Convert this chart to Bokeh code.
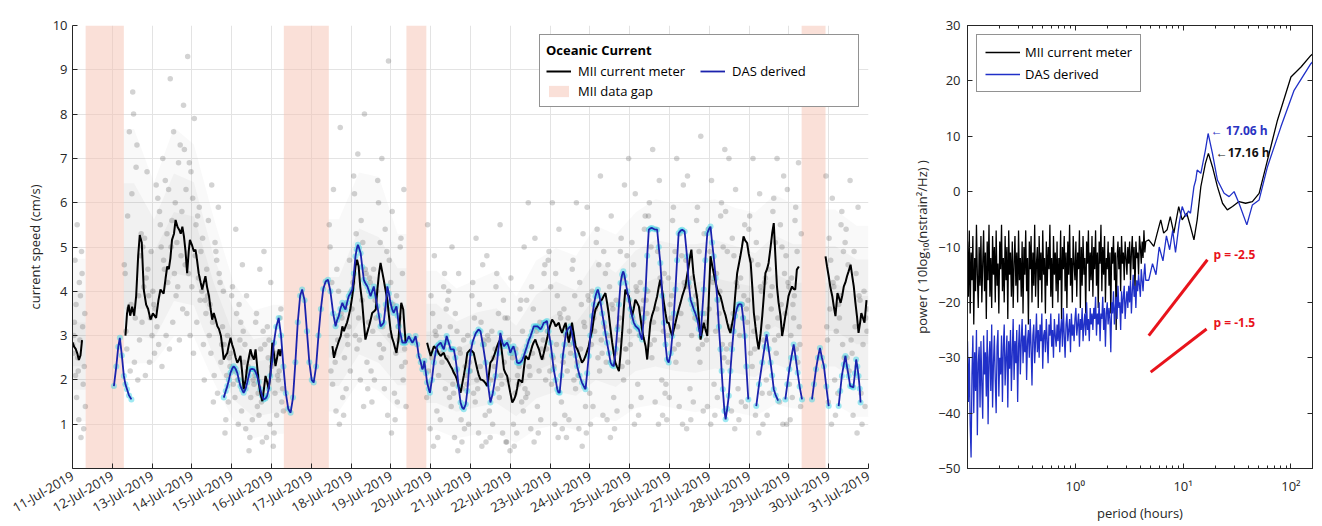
import math
import numpy as np
from bokeh.plotting import figure
from bokeh.layouts import row
from bokeh.models import (FixedTicker, Legend, LegendItem, LinearAxis, LogAxis,
                          Label, CustomJSTickFormatter)
from bokeh.embed import file_html
from bokeh.resources import INLINE

FONT = "Open Sans"
AX = "#262626"

# ---------------- panel (a) data ----------------
date_labels = ["11-Jul-2019", "12-Jul-2019", "13-Jul-2019", "14-Jul-2019", "15-Jul-2019",
               "16-Jul-2019", "17-Jul-2019", "18-Jul-2019", "19-Jul-2019", "20-Jul-2019",
               "21-Jul-2019", "22-Jul-2019", "23-Jul-2019", "24-Jul-2019", "25-Jul-2019",
               "26-Jul-2019", "27-Jul-2019", "28-Jul-2019", "29-Jul-2019", "30-Jul-2019",
               "31-Jul-2019"]
day_ticks = list(range(len(date_labels)))          # days since 11-Jul-2019 00:00
speed_ticks = [1, 2, 3, 4, 5, 6, 7, 8, 9, 10]

gap_start = [0.33, 5.31, 8.39, 18.32]
gap_end = [1.29, 6.44, 8.89, 18.92]

mii_seg1 = [(0, 2.85), (0.04, 2.75), (0.08, 2.7), (0.12, 2.6), (0.16, 2.45), (0.2, 2.55), (0.24, 2.9)]
mii_seg2 = [(1.33, 3.0), (1.37, 3.5), (1.41, 3.7), (1.45, 3.45), (1.5, 3.65), (1.55, 3.45), (1.6, 3.9),
            (1.65, 4.8), (1.69, 5.27), (1.74, 5.1), (1.79, 4.04), (1.85, 3.7), (1.9, 3.6), (1.96, 3.36),
            (2.02, 3.5), (2.1, 3.4), (2.16, 3.8), (2.21, 4.04), (2.29, 3.95), (2.34, 4.3), (2.38, 4.56),
            (2.42, 4.5), (2.46, 4.75), (2.5, 5.16), (2.55, 5.3), (2.59, 5.61), (2.64, 5.45), (2.68, 5.39),
            (2.72, 5.3), (2.76, 5.46), (2.8, 5.24), (2.84, 4.9), (2.88, 4.41), (2.92, 4.9), (2.95, 5.16),
            (3.0, 5.05), (3.05, 4.9), (3.09, 4.94), (3.13, 4.7), (3.17, 4.41), (3.22, 4.2), (3.26, 4.04),
            (3.3, 4.2), (3.34, 4.34), (3.38, 4.1), (3.43, 3.89), (3.47, 3.6), (3.51, 3.36), (3.55, 3.51),
            (3.6, 3.35), (3.64, 3.21), (3.68, 3.15), (3.73, 2.99), (3.77, 2.7), (3.8, 2.46), (3.85, 2.55),
            (3.89, 2.61), (3.93, 2.8), (3.97, 2.95), (4.01, 2.8), (4.05, 2.69), (4.1, 2.5), (4.14, 2.39),
            (4.18, 2.45), (4.22, 2.54), (4.26, 2.2), (4.3, 1.79), (4.35, 2.0), (4.39, 2.31), (4.43, 2.5),
            (4.47, 2.69), (4.51, 2.55), (4.56, 2.46), (4.6, 2.69), (4.64, 2.3), (4.68, 1.94), (4.72, 1.7),
            (4.77, 1.52), (4.81, 1.8), (4.85, 2.09), (4.89, 1.95), (4.93, 1.79), (4.97, 2.1), (5.02, 2.84),
            (5.06, 2.6), (5.1, 2.31), (5.14, 2.5), (5.18, 2.69), (5.22, 2.54), (5.25, 2.7)]
mii_seg3 = [(6.53, 2.76), (6.57, 2.5), (6.61, 2.65), (6.65, 2.76), (6.7, 2.9), (6.74, 2.99), (6.78, 3.21),
            (6.82, 3.1), (6.86, 3.21), (6.9, 3.3), (6.94, 3.44), (6.98, 3.6), (7.03, 3.89), (7.07, 4.2),
            (7.11, 4.56), (7.15, 4.71), (7.19, 4.56), (7.23, 4.1), (7.28, 3.74), (7.32, 3.3), (7.36, 2.91),
            (7.4, 3.05), (7.45, 3.21), (7.49, 3.35), (7.53, 3.51), (7.58, 3.55), (7.62, 3.59), (7.66, 4.04),
            (7.7, 4.4), (7.74, 4.64), (7.78, 4.45), (7.82, 4.26), (7.87, 4.0), (7.91, 3.81), (7.95, 3.45),
            (7.99, 3.14), (8.03, 2.95), (8.07, 2.84), (8.11, 2.7), (8.14, 2.61), (8.19, 2.91), (8.23, 3.4),
            (8.26, 3.74), (8.31, 3.59), (8.34, 3.2), (8.37, 2.84)]
mii_seg4 = [(8.91, 2.84), (8.95, 2.7), (9.0, 2.54), (9.04, 2.65), (9.08, 2.76), (9.12, 2.72), (9.16, 2.69),
            (9.2, 2.6), (9.25, 2.54), (9.29, 2.58), (9.33, 2.61), (9.37, 2.5), (9.41, 2.46), (9.45, 2.4),
            (9.5, 2.31), (9.54, 2.25), (9.58, 2.16), (9.62, 2.1), (9.66, 2.01), (9.7, 1.85), (9.75, 1.71),
            (9.79, 1.9), (9.83, 2.09), (9.88, 2.35), (9.92, 2.61), (9.96, 2.65), (10.0, 2.69), (10.04, 2.65),
            (10.08, 2.61), (10.13, 2.4), (10.17, 2.24), (10.21, 2.1), (10.25, 2.01), (10.29, 2.0), (10.33, 1.98),
            (10.38, 1.92), (10.42, 1.86), (10.46, 2.1), (10.5, 2.39), (10.55, 2.45), (10.59, 2.54), (10.63, 2.65),
            (10.67, 2.76), (10.71, 2.85), (10.75, 2.91), (10.8, 2.55), (10.84, 2.24), (10.88, 2.15), (10.92, 2.09),
            (10.96, 1.9), (11.0, 1.71), (11.05, 1.49), (11.09, 1.55), (11.13, 1.64), (11.17, 1.8), (11.21, 2.01),
            (11.26, 1.98), (11.3, 1.94), (11.34, 2.25), (11.38, 2.54), (11.42, 2.5), (11.46, 2.46), (11.5, 2.6),
            (11.55, 2.76), (11.59, 2.85), (11.63, 2.91), (11.67, 2.8), (11.72, 2.69), (11.76, 2.55), (11.8, 2.46),
            (11.84, 2.6), (11.88, 2.76), (11.93, 2.95), (11.97, 3.14), (12.01, 3.25), (12.05, 3.36), (12.1, 3.3),
            (12.14, 3.21), (12.18, 3.25), (12.22, 3.29), (12.26, 3.15), (12.3, 3.06), (12.35, 3.2), (12.39, 3.29),
            (12.43, 3.05), (12.47, 2.84), (12.51, 3.05), (12.55, 3.29), (12.6, 3.0), (12.64, 2.76), (12.68, 2.7),
            (12.72, 2.61), (12.76, 2.5), (12.8, 2.39), (12.85, 2.45), (12.89, 2.54), (12.93, 2.65), (12.97, 2.76),
            (13.01, 2.95), (13.06, 3.14), (13.1, 3.4), (13.14, 3.59), (13.18, 3.65), (13.22, 3.74), (13.26, 3.78),
            (13.3, 3.81), (13.35, 3.9), (13.39, 3.96), (13.43, 3.75), (13.47, 3.51), (13.51, 3.2), (13.56, 2.84),
            (13.6, 2.6), (13.64, 2.39), (13.68, 2.3), (13.73, 2.2), (13.77, 2.6), (13.81, 3.06), (13.85, 3.6),
            (13.89, 4.04), (13.93, 3.95), (13.98, 3.89), (14.02, 3.65), (14.06, 3.44), (14.1, 3.6), (14.14, 3.81),
            (14.18, 3.75), (14.23, 3.66), (14.27, 3.4), (14.31, 3.14), (14.35, 2.95), (14.4, 2.76), (14.44, 2.46),
            (14.48, 2.9), (14.52, 3.29), (14.56, 3.45), (14.61, 3.59), (14.65, 3.75), (14.69, 3.89), (14.73, 4.1),
            (14.77, 4.26), (14.82, 4.0), (14.86, 3.74), (14.9, 3.5), (14.94, 3.29), (14.98, 3.29), (15.03, 3.1),
            (15.07, 2.99), (15.11, 3.15), (15.15, 3.29), (15.19, 3.45), (15.23, 3.59), (15.28, 3.75), (15.32, 3.89),
            (15.36, 4.0), (15.4, 4.11), (15.44, 4.35), (15.48, 4.56), (15.52, 4.8), (15.55, 4.94), (15.6, 4.41),
            (15.65, 4.1), (15.7, 3.81), (15.74, 3.35), (15.78, 2.91), (15.82, 3.1), (15.86, 3.29), (15.9, 3.15),
            (15.95, 2.99), (15.99, 3.9), (16.03, 4.79), (16.07, 4.6), (16.11, 4.41), (16.16, 4.2), (16.2, 4.04),
            (16.24, 3.95), (16.28, 3.89), (16.32, 3.75), (16.36, 3.59), (16.41, 3.45), (16.45, 3.29), (16.49, 3.15),
            (16.53, 3.06), (16.57, 3.25), (16.61, 3.44), (16.65, 3.9), (16.7, 4.41), (16.74, 4.6), (16.78, 4.79),
            (16.82, 5.0), (16.86, 5.24), (16.9, 5.15), (16.95, 5.09), (16.99, 4.85), (17.04, 4.64), (17.08, 4.1),
            (17.12, 3.51), (17.16, 3.2), (17.2, 2.91), (17.24, 2.69), (17.29, 3.05), (17.33, 3.44), (17.37, 3.9),
            (17.41, 4.41), (17.45, 4.5), (17.49, 4.64), (17.54, 5.0), (17.58, 5.31), (17.62, 5.54), (17.66, 4.8),
            (17.7, 4.11), (17.74, 3.75), (17.79, 3.44), (17.83, 2.99), (17.87, 3.2), (17.91, 3.44), (17.95, 3.65),
            (17.99, 3.89), (18.03, 4.0), (18.08, 4.11), (18.12, 4.05), (18.16, 4.04), (18.2, 4.49), (18.25, 4.56)]
mii_seg5 = [(18.92, 4.79), (18.96, 4.55), (19.0, 4.34), (19.04, 4.1), (19.09, 3.89), (19.13, 3.65), (19.17, 3.44),
            (19.22, 3.96), (19.26, 3.85), (19.3, 3.74), (19.34, 3.9), (19.38, 4.11), (19.42, 4.2), (19.46, 4.34),
            (19.5, 4.45), (19.55, 4.6), (19.59, 4.35), (19.63, 4.11), (19.67, 3.75), (19.71, 3.44), (19.75, 3.06),
            (19.79, 3.3), (19.82, 3.51), (19.86, 3.4), (19.9, 3.29), (19.95, 3.8)]

das_seg1 = [(1.04, 1.86), (1.1, 2.3), (1.15, 2.75), (1.19, 2.95), (1.24, 2.55), (1.29, 2.09), (1.33, 1.9),
            (1.37, 1.79), (1.42, 1.65), (1.48, 1.56)]
das_seg2 = [(3.8, 1.6), (3.85, 1.75), (3.89, 1.86), (3.93, 2.0), (3.97, 2.16), (4.01, 2.25), (4.05, 2.31),
            (4.1, 2.25), (4.14, 2.16), (4.18, 2.0), (4.22, 1.86), (4.26, 1.78), (4.3, 1.71), (4.35, 1.8),
            (4.39, 1.94), (4.43, 2.1), (4.47, 2.24), (4.51, 2.25), (4.56, 2.24), (4.6, 2.18), (4.64, 2.09),
            (4.68, 1.95), (4.72, 1.79), (4.76, 1.65), (4.8, 1.56), (4.85, 1.58), (4.89, 1.64), (4.93, 1.8),
            (4.97, 2.09), (5.02, 2.45), (5.06, 2.84), (5.12, 3.2), (5.18, 3.4), (5.24, 3.0), (5.3, 2.3),
            (5.36, 1.7), (5.42, 1.35), (5.48, 1.26), (5.54, 1.6), (5.6, 2.4), (5.66, 3.3), (5.72, 3.9),
            (5.77, 4.04), (5.83, 3.8), (5.89, 3.1), (5.95, 2.4), (6.01, 2.0), (6.06, 1.94), (6.12, 2.3),
            (6.18, 3.0), (6.24, 3.6), (6.3, 4.05), (6.36, 4.22), (6.42, 4.26), (6.48, 4.0), (6.55, 3.5),
            (6.61, 3.21), (6.65, 3.35), (6.69, 3.44), (6.73, 3.6), (6.78, 3.74), (6.82, 3.65), (6.86, 3.59),
            (6.9, 3.75), (6.94, 3.89), (6.98, 3.95), (7.03, 4.04), (7.07, 4.4), (7.11, 4.79), (7.14, 4.95),
            (7.17, 5.05), (7.2, 4.98), (7.24, 4.86), (7.28, 4.55), (7.32, 4.26), (7.36, 4.18), (7.41, 4.11),
            (7.45, 4.0), (7.49, 3.89), (7.53, 4.0), (7.57, 4.11), (7.61, 3.9), (7.66, 3.66), (7.7, 3.45),
            (7.74, 3.21), (7.78, 3.25), (7.82, 3.29), (7.87, 3.7), (7.91, 4.11), (7.95, 3.95), (7.99, 3.74),
            (8.03, 3.6), (8.07, 3.51), (8.11, 3.6), (8.14, 3.66), (8.17, 3.45), (8.2, 3.21), (8.25, 3.0),
            (8.29, 2.84), (8.33, 2.84), (8.37, 2.84), (8.41, 2.9), (8.45, 2.99), (8.5, 2.9), (8.54, 2.84),
            (8.58, 2.9), (8.62, 2.99), (8.66, 2.8), (8.7, 2.54), (8.75, 2.4), (8.79, 2.24), (8.82, 2.3),
            (8.84, 2.43), (8.88, 2.15), (8.91, 1.94), (8.95, 1.8), (8.98, 1.71), (9.03, 2.0), (9.08, 2.39),
            (9.12, 2.6), (9.16, 2.76), (9.2, 2.8), (9.25, 2.84), (9.29, 2.76), (9.33, 2.69), (9.37, 2.85),
            (9.4, 2.99), (9.45, 2.85), (9.5, 2.69), (9.54, 2.69), (9.58, 2.69), (9.62, 2.5), (9.66, 2.24),
            (9.7, 1.85), (9.75, 1.49), (9.79, 1.38), (9.83, 1.34), (9.88, 1.45), (9.92, 1.75), (9.96, 2.2),
            (10.0, 2.6), (10.05, 2.85), (10.13, 3.05), (10.2, 3.14), (10.25, 3.1), (10.31, 2.8), (10.38, 2.39),
            (10.44, 1.9), (10.5, 1.49), (10.56, 1.7), (10.63, 2.09), (10.69, 2.6), (10.75, 3.06), (10.8, 2.85),
            (10.84, 2.76), (10.88, 2.8), (10.92, 2.84), (10.96, 2.75), (11.0, 2.61), (11.04, 2.7), (11.08, 2.76),
            (11.13, 2.6), (11.17, 2.39), (11.21, 2.38), (11.25, 2.39), (11.3, 2.45), (11.34, 2.54), (11.38, 2.65),
            (11.42, 2.76), (11.46, 2.88), (11.51, 2.99), (11.55, 3.1), (11.59, 3.21), (11.64, 3.21), (11.68, 3.21),
            (11.72, 3.18), (11.76, 3.14), (11.8, 3.2), (11.84, 3.29), (11.88, 3.3), (11.92, 3.33), (11.96, 3.1),
            (12.01, 2.84), (12.05, 2.55), (12.09, 2.24), (12.14, 2.0), (12.18, 1.79), (12.21, 1.72), (12.24, 1.71),
            (12.28, 2.1), (12.32, 2.54), (12.36, 2.8), (12.4, 3.06), (12.45, 3.15), (12.51, 3.21), (12.55, 3.05),
            (12.59, 2.84), (12.64, 2.55), (12.68, 2.31), (12.74, 2.1), (12.8, 1.94), (12.85, 1.85), (12.89, 1.79),
            (12.93, 2.15), (12.97, 2.54), (13.01, 3.0), (13.06, 3.44), (13.1, 3.7), (13.14, 3.89), (13.17, 3.98),
            (13.2, 4.04), (13.24, 3.9), (13.27, 3.74), (13.31, 3.5), (13.35, 3.29), (13.39, 3.05), (13.43, 2.84),
            (13.48, 2.6), (13.52, 2.39), (13.56, 2.33), (13.6, 2.31), (13.65, 2.7), (13.69, 3.14), (13.73, 3.7),
            (13.77, 4.19), (13.81, 4.38), (13.84, 4.45), (13.87, 4.35), (13.9, 4.19), (13.94, 4.0), (13.98, 3.81),
            (14.02, 3.6), (14.06, 3.44), (14.1, 3.3), (14.15, 3.21), (14.19, 3.18), (14.23, 3.14), (14.27, 3.0),
            (14.31, 2.91), (14.35, 3.4), (14.4, 4.04), (14.44, 4.8), (14.48, 5.39), (14.52, 5.42), (14.56, 5.43),
            (14.62, 5.4), (14.69, 5.39), (14.73, 5.0), (14.77, 4.64), (14.82, 3.9), (14.86, 3.29), (14.9, 2.8),
            (14.94, 2.46), (14.98, 2.39), (15.03, 2.6), (15.07, 2.99), (15.11, 3.5), (15.15, 4.04), (15.19, 4.7),
            (15.23, 5.31), (15.28, 5.37), (15.32, 5.39), (15.38, 5.35), (15.44, 4.79), (15.48, 4.2), (15.53, 3.81),
            (15.57, 3.7), (15.61, 3.59), (15.65, 3.5), (15.7, 3.36), (15.74, 3.15), (15.78, 2.99), (15.82, 3.5),
            (15.86, 4.04), (15.9, 4.7), (15.95, 5.31), (15.99, 5.4), (16.03, 5.46), (16.07, 5.1), (16.11, 4.79),
            (16.16, 4.3), (16.2, 3.81), (16.24, 3.2), (16.28, 2.69), (16.31, 2.2), (16.34, 1.79), (16.38, 1.3),
            (16.41, 1.11), (16.45, 1.35), (16.49, 1.64), (16.53, 2.2), (16.57, 2.69), (16.61, 3.1), (16.65, 3.44),
            (16.69, 3.6), (16.73, 3.7), (16.77, 3.71), (16.81, 3.7), (16.85, 3.4), (16.89, 2.99), (16.93, 2.3),
            (16.98, 1.56)]
das_seg3 = [(17.18, 1.41), (17.25, 1.9), (17.33, 2.39), (17.39, 2.75), (17.44, 3.03), (17.49, 2.7), (17.54, 2.39),
            (17.58, 2.1), (17.62, 1.79), (17.67, 1.65), (17.73, 1.53)]
das_seg4 = [(17.91, 1.56), (17.96, 1.9), (18.01, 2.24), (18.06, 2.5), (18.12, 2.8), (18.17, 2.5), (18.22, 2.16),
            (18.27, 1.85), (18.33, 1.56)]
das_seg5 = [(18.58, 1.56), (18.63, 1.9), (18.68, 2.24), (18.73, 2.5), (18.78, 2.72), (18.83, 2.5), (18.88, 2.31),
            (18.94, 1.85), (19.0, 1.41)]
das_seg6 = [(19.25, 1.41), (19.29, 1.75), (19.33, 2.09), (19.38, 2.35), (19.42, 2.54), (19.46, 2.3), (19.5, 2.09),
            (19.54, 1.86), (19.58, 1.85), (19.62, 1.83), (19.66, 2.15), (19.69, 2.46), (19.72, 2.3), (19.75, 2.09),
            (19.78, 1.8), (19.8, 1.49)]

# raw current-meter samples (gray cloud), per time window
scatter_bins = [(0.0, 0.33), (1.29, 1.8), (1.8, 2.3), (2.3, 2.8), (2.8, 3.3), (3.3, 3.8), (3.8, 4.3),
                (4.3, 4.8), (4.8, 5.31), (6.44, 6.95), (6.95, 7.45), (7.45, 7.95), (7.95, 8.39),
                (8.89, 9.4), (9.4, 9.9), (9.9, 10.4), (10.4, 10.9), (10.9, 11.4), (11.4, 11.9),
                (11.9, 12.4), (12.4, 12.9), (12.9, 13.4), (13.4, 13.9), (13.9, 14.4), (14.4, 14.9),
                (14.9, 15.4), (15.4, 15.9), (15.9, 16.4), (16.4, 16.9), (16.9, 17.4), (17.4, 17.9),
                (17.9, 18.32), (18.92, 19.4), (19.4, 20.0)]
scatter_vals = [
    [2.8, 1.6, 3.9, 2.3, 4.7, 1.1, 3.2, 2.6, 5.5, 0.7, 3.5, 2.1, 4.2, 1.9, 3.0, 2.5, 4.9, 1.4, 3.7, 2.9, 0.9, 3.3, 2.2, 4.4],
    [3.6, 2.4, 4.8, 3.1, 6.2, 2.0, 4.1, 7.6, 3.4, 5.3, 2.7, 8.5, 3.9, 4.6, 2.2, 6.8, 3.3, 5.7, 8.0, 2.9, 4.4, 3.7, 7.3, 5.0],
    [4.0, 2.8, 5.2, 3.4, 6.4, 2.3, 4.5, 3.7, 5.8, 2.1, 4.9, 3.2, 7.0, 3.9, 2.6, 5.5, 4.3, 3.0, 6.1, 4.7, 2.4, 3.6, 5.0, 6.7],
    [5.1, 3.6, 6.3, 4.4, 7.3, 3.0, 5.6, 4.1, 8.2, 2.7, 6.0, 4.8, 5.3, 3.3, 6.9, 4.5, 8.8, 3.9, 5.8, 4.2, 7.6, 2.9, 6.5, 5.0],
    [4.9, 3.5, 6.1, 4.3, 7.2, 3.0, 5.5, 4.0, 9.3, 2.6, 5.9, 4.6, 6.7, 3.3, 5.2, 4.4, 7.9, 3.8, 6.3, 4.1, 5.7, 2.8, 6.9, 4.8],
    [3.8, 2.6, 4.7, 3.2, 5.6, 2.1, 4.2, 3.5, 6.4, 1.7, 4.0, 3.0, 5.1, 2.4, 4.5, 3.3, 5.9, 2.0, 3.7, 4.9, 2.8, 3.9, 1.5, 4.4],
    [2.5, 1.6, 3.3, 2.1, 4.1, 1.0, 2.8, 2.3, 5.4, 1.3, 3.0, 1.9, 3.7, 0.8, 2.6, 3.5, 4.6, 1.5, 2.2, 2.9, 1.1, 3.9, 2.0, 3.1],
    [2.0, 1.2, 2.8, 1.6, 3.5, 0.6, 2.3, 1.9, 4.5, 0.9, 2.5, 1.4, 3.1, 0.4, 2.1, 2.7, 3.9, 1.1, 1.7, 2.4, 0.7, 3.3, 1.5, 2.2],
    [2.1, 1.3, 2.9, 1.7, 3.6, 0.7, 2.4, 2.0, 4.9, 1.0, 2.6, 1.5, 3.2, 0.5, 2.2, 2.8, 4.2, 1.2, 1.8, 2.5, 0.8, 3.4, 1.6, 2.3],
    [3.0, 1.9, 4.0, 2.5, 5.0, 1.3, 3.4, 2.8, 6.3, 1.0, 3.7, 2.2, 4.5, 1.6, 3.2, 2.6, 7.7, 1.8, 4.2, 2.9, 1.2, 5.5, 2.4, 3.5],
    [4.0, 2.7, 5.1, 3.3, 6.2, 2.0, 4.4, 3.6, 7.1, 1.4, 4.7, 3.0, 5.6, 2.4, 4.2, 3.4, 8.0, 2.2, 5.3, 3.8, 1.8, 6.6, 2.9, 4.5],
    [3.8, 2.5, 4.9, 3.1, 6.0, 1.8, 4.2, 3.4, 7.0, 1.2, 4.5, 2.8, 5.4, 2.2, 4.0, 3.2, 9.2, 2.0, 5.1, 3.6, 1.5, 6.5, 2.7, 4.3],
    [3.2, 2.0, 4.2, 2.6, 5.2, 1.4, 3.6, 2.9, 6.3, 0.8, 3.9, 2.3, 4.7, 1.7, 3.4, 2.7, 5.8, 1.5, 4.4, 3.0, 1.1, 5.0, 2.4, 3.7],
    [2.6, 1.6, 3.5, 2.1, 4.4, 0.9, 3.0, 2.4, 5.5, 0.5, 3.2, 1.8, 3.9, 1.3, 2.8, 2.2, 4.8, 1.1, 3.6, 2.5, 0.7, 4.1, 1.9, 3.1],
    [2.3, 1.4, 3.1, 1.8, 4.0, 0.7, 2.6, 2.1, 5.0, 0.4, 2.9, 1.6, 3.5, 1.1, 2.5, 1.9, 4.4, 0.9, 3.2, 2.2, 0.6, 3.8, 1.7, 2.7],
    [2.4, 1.5, 3.3, 1.9, 4.2, 0.8, 2.8, 2.2, 5.2, 0.5, 3.0, 1.7, 3.7, 1.2, 2.6, 2.0, 4.6, 1.0, 3.4, 2.3, 0.6, 3.9, 1.8, 2.9],
    [2.5, 1.6, 3.4, 2.0, 4.4, 0.8, 2.9, 2.3, 5.5, 0.6, 3.1, 1.8, 3.8, 1.3, 2.7, 2.1, 4.8, 1.0, 3.5, 2.4, 0.7, 4.1, 1.9, 3.0],
    [2.1, 1.3, 2.9, 1.7, 3.8, 0.6, 2.5, 1.9, 5.0, 0.4, 2.7, 1.5, 3.4, 1.0, 2.3, 1.8, 4.3, 0.8, 3.1, 2.0, 0.5, 3.6, 1.6, 2.6],
    [2.7, 1.7, 3.6, 2.2, 4.6, 0.9, 3.1, 2.5, 6.0, 0.6, 3.3, 2.0, 4.1, 1.4, 2.9, 2.3, 5.2, 1.1, 3.8, 2.6, 0.8, 4.4, 2.1, 3.2],
    [3.0, 1.9, 3.9, 2.4, 4.9, 1.0, 3.4, 2.7, 6.0, 0.7, 3.6, 2.2, 4.4, 1.5, 3.1, 2.5, 5.4, 1.2, 4.1, 2.8, 0.9, 4.7, 2.3, 3.5],
    [2.8, 1.8, 3.7, 2.2, 4.7, 0.9, 3.2, 2.6, 6.0, 0.5, 3.4, 2.0, 4.2, 1.4, 3.0, 2.4, 5.3, 1.1, 3.9, 2.7, 0.7, 4.5, 2.1, 3.3],
    [3.4, 2.2, 4.4, 2.8, 5.4, 1.2, 3.8, 3.1, 6.6, 0.8, 4.0, 2.5, 4.9, 1.7, 3.6, 2.9, 5.9, 1.4, 4.6, 3.2, 1.0, 5.1, 2.6, 3.9],
    [3.2, 2.0, 4.1, 2.6, 5.2, 1.1, 3.6, 2.9, 6.4, 0.7, 3.8, 2.3, 4.6, 1.6, 3.4, 2.7, 5.7, 1.3, 4.3, 3.0, 0.9, 4.9, 2.4, 3.7],
    [3.6, 2.4, 4.6, 3.0, 5.7, 1.4, 4.0, 3.3, 7.0, 1.0, 4.2, 2.7, 5.1, 1.9, 3.8, 3.1, 6.2, 1.6, 4.8, 3.4, 1.2, 5.4, 2.8, 4.1],
    [3.8, 2.5, 4.9, 3.1, 6.0, 1.5, 4.2, 3.5, 7.2, 1.0, 4.4, 2.8, 5.4, 2.0, 4.0, 3.3, 6.5, 1.7, 5.0, 3.6, 1.2, 5.7, 2.9, 4.3],
    [3.7, 2.4, 4.8, 3.0, 5.9, 1.4, 4.1, 3.4, 7.0, 1.0, 4.3, 2.7, 5.3, 1.9, 3.9, 3.2, 6.4, 1.6, 4.9, 3.5, 1.1, 5.6, 2.8, 4.2],
    [3.7, 2.4, 4.7, 3.0, 5.9, 1.3, 4.1, 3.4, 7.5, 0.9, 4.3, 2.7, 5.3, 1.8, 3.9, 3.2, 6.6, 1.5, 4.9, 3.5, 1.1, 5.6, 2.8, 4.2],
    [3.8, 2.5, 4.9, 3.1, 6.0, 1.4, 4.2, 3.5, 7.2, 1.0, 4.4, 2.8, 5.4, 1.9, 4.0, 3.3, 6.5, 1.6, 5.0, 3.6, 1.2, 5.7, 2.9, 4.3],
    [3.7, 2.4, 4.8, 3.0, 5.8, 1.3, 4.1, 3.4, 7.0, 0.9, 4.3, 2.7, 5.2, 1.8, 3.9, 3.2, 6.3, 1.5, 4.9, 3.5, 1.1, 5.5, 2.8, 4.2],
    [3.6, 2.3, 4.6, 2.9, 5.7, 1.2, 4.0, 3.3, 7.0, 0.8, 4.2, 2.6, 5.1, 1.7, 3.8, 3.1, 6.2, 1.4, 4.7, 3.4, 1.0, 5.4, 2.7, 4.1],
    [3.9, 2.6, 5.0, 3.2, 6.1, 1.5, 4.3, 3.6, 7.0, 1.0, 4.5, 2.9, 5.5, 2.0, 4.1, 3.4, 6.6, 1.7, 5.1, 3.7, 1.2, 5.8, 3.0, 4.4],
    [3.7, 2.4, 4.8, 3.0, 5.9, 1.4, 4.1, 3.4, 6.9, 1.0, 4.3, 2.7, 5.3, 1.9, 3.9, 3.2, 6.3, 1.6, 4.9, 3.5, 1.1, 5.6, 2.8, 4.2],
    [3.7, 2.5, 4.7, 3.1, 5.8, 1.5, 4.1, 3.4, 6.6, 1.0, 4.3, 2.8, 5.2, 2.0, 3.9, 3.2, 6.1, 1.7, 4.9, 3.6, 1.2, 5.5, 2.9, 4.2],
    [3.4, 2.2, 4.4, 2.8, 5.4, 1.2, 3.8, 3.1, 6.5, 0.8, 4.0, 2.5, 4.9, 1.7, 3.6, 2.9, 5.9, 1.4, 4.6, 3.2, 1.0, 5.1, 2.6, 3.9],
]

# ---------------- panel (b) data ----------------
power_ticks = [-50, -40, -30, -20, -10, 0, 10, 20, 30]
period_major = [1, 10, 100]
period_labels = ["10\u2070", "10\u00b9", "10\u00b2"]

spec_mii_noise = [
    -9, -19, -7, -22, -11, -16, -8, -24, -12, -18, -6, -15, -21, -10, -17, -8, -20, -13, -7, -18,
    -11, -23, -9, -16, -6, -19, -12, -21, -8, -15, -10, -20, -7, -17, -13, -22, -9, -14, -6, -18,
    -12, -20, -8, -16, -10, -23, -7, -15, -11, -19, -9, -21, -13, -8, -17, -11, -20, -7, -16, -12,
    -19, -9, -22, -10, -15, -7, -18, -12, -24, -9, -14, -8, -20, -11, -17, -6, -19, -13, -10, -21,
    -8, -16, -11, -20, -7, -15, -12, -22, -9, -17, -10, -14, -6, -19, -12, -21, -8, -15, -11, -18,
    -9, -20, -12, -16, -7, -23, -10, -14, -8, -18, -11, -21, -9, -15, -6, -17, -12, -20, -8, -13,
    -16, -9, -19, -11, -14, -7, -21, -10, -17, -8, -15, -12, -22, -9, -13, -7, -18, -11, -16, -8,
    -19, -10, -14, -7, -17, -11, -21, -9, -13, -6, -18, -10, -15, -8, -20, -12, -14, -9, -17, -11,
    -22, -10, -13, -8, -16, -11, -25, -12, -9, -14, -10, -18, -8, -13, -11, -16, -9, -12, -15, -10,
    -13, -9, -16, -11, -8, -14, -10, -18, -9, -12, -11, -15, -8, -10, -13, -9, -12, -7, -11, -9]
spec_das_noise = [
    -27, -38, -30, -42, -48, -33, -26, -40, -29, -36, -25, -44, -31, -28, -39, -27, -35, -41, -26, -33,
    -29, -37, -25, -42, -30, -27, -36, -24, -39, -31, -26, -34, -40, -28, -25, -37, -30, -33, -26, -38,
    -28, -24, -35, -30, -26, -39, -27, -32, -25, -36, -29, -23, -34, -27, -31, -25, -38, -28, -24, -33,
    -27, -23, -31, -26, -29, -24, -34, -27, -25, -30, -23, -28, -35, -26, -24, -31, -27, -22, -29, -25,
    -30, -24, -27, -22, -32, -26, -25, -29, -23, -27, -31, -24, -26, -22, -28, -25, -30, -23, -26, -28,
    -24, -27, -22, -29, -25, -23, -28, -21, -26, -30, -24, -22, -27, -25, -23, -29, -22, -26, -24, -27,
    -23, -21, -26, -24, -22, -28, -23, -25, -21, -27, -24, -22, -26, -20, -25, -23, -27, -21, -24, -22,
    -25, -21, -23, -19, -26, -22, -24, -20, -27, -22, -23, -19, -25, -21, -28, -22, -20, -24, -21, -23,
    -29, -20, -22, -18, -24, -21, -19, -23, -17, -21, -20, -25, -18, -22, -19, -17, -23, -20, -18, -21,
    -17, -20, -16, -22, -18, -15, -19, -17, -21, -16, -18, -15, -17, -19, -14, -16, -18, -15, -13, -16]
spec_mii_smooth = [(4.8, -8.7), (5.35, -9.9), (5.75, -7.5), (6.2, -5.1), (6.6, -7.5), (7.1, -6.9), (7.6, -4.5),
                   (8.2, -7.5), (9.1, -2.7), (9.8, -5.1), (10.8, -3.9), (11.7, -6.3), (12.6, -8.7), (13.5, -5.1),
                   (14.6, 0.9), (16.1, 5.1), (17.16, 6.9), (18.7, 4.5), (20.8, 0.9), (23.2, -2.1), (25.7, -3.3),
                   (28.7, -2.7), (33, -1.8), (38, -2.1), (43.9, -1.8), (50.7, -0.3), (60.6, 5.7), (75, 12.9),
                   (100, 20.7), (124, 22.5), (153, 24.6), (160, 24.9)]
spec_das_smooth = [(4.8, -16), (5.2, -13), (5.6, -15), (6.0, -10), (6.5, -12.5), (7.0, -8), (7.5, -10.5),
                   (8.0, -7), (8.5, -11), (9.2, -5.7), (9.8, -2.7), (10.6, -4.5), (11.2, -3.5), (11.7, -3.9),
                   (12.6, 0.9), (13.1, 2.1), (13.5, 3.9), (14.6, 3.3), (16.1, 7.5), (17.06, 10.5), (18.7, 6.9),
                   (20.8, 2.1), (24, -0.3), (26.7, -0.9), (29.7, 0.0), (33, -2.1), (39, -6.0), (43.9, -2.4),
                   (50.7, -1.5), (60.6, 4.5), (80.7, 11.7), (107, 18.3), (153, 23.1), (160, 23.5)]
peak_das = (17.06, 10.5)
peak_mii = (17.16, 6.9)
slope_25 = [(4.8, -26.0), (16.8, -12.3)]
slope_15 = [(5.0, -32.6), (16.5, -24.8)]


def join(segs):
    xs, ys = [], []
    for i, s in enumerate(segs):
        if i:
            xs.append(np.nan)
            ys.append(np.nan)
        xs += [a for a, _ in s]
        ys += [b for _, b in s]
    return np.array(xs, dtype=float), np.array(ys, dtype=float)


def style_axis(ax, size="13px"):
    ax.axis_line_color = AX
    ax.major_tick_line_color = AX
    ax.minor_tick_line_color = AX
    ax.major_tick_in = 5
    ax.major_tick_out = 0
    ax.minor_tick_in = 3
    ax.minor_tick_out = 0
    ax.major_label_text_font = FONT
    ax.major_label_text_font_size = size
    ax.major_label_text_color = AX
    ax.axis_label_text_font = FONT
    ax.axis_label_text_font_size = "13px"
    ax.axis_label_text_font_style = "normal"
    ax.axis_label_text_color = AX


# ---------------- panel (a) ----------------
p1 = figure(width=880, height=526, x_range=(0, 20), y_range=(0, 10),
            toolbar_location=None, output_backend="svg",
            min_border_left=72, min_border_right=12, min_border_top=25, min_border_bottom=57)
p1.outline_line_color = None
p1.grid.grid_line_color = "#e3e3e3"

r_gap = p1.quad(left=gap_start, right=gap_end, bottom=0, top=10,
                fill_color="#f6c2b2", fill_alpha=0.5, line_color=None)

# soft density haze summarising the raw samples of each window
groups = []
for i, (t0, t1) in enumerate(scatter_bins):
    if groups and abs(scatter_bins[groups[-1][-1]][1] - t0) < 1e-9:
        groups[-1].append(i)
    else:
        groups.append([i])
for lo_q, hi_q, a in [(8, 92, 0.045), (20, 80, 0.055), (35, 65, 0.05)]:
    for g in groups:
        xs = [scatter_bins[g[0]][0]] + [0.5 * (scatter_bins[i][0] + scatter_bins[i][1]) for i in g] + [scatter_bins[g[-1]][1]]
        lo = [np.percentile(scatter_vals[i], lo_q) for i in g]
        hi = [np.percentile(scatter_vals[i], hi_q) for i in g]
        lo = [lo[0]] + lo + [lo[-1]]
        hi = [hi[0]] + hi + [hi[-1]]
        p1.varea(x=xs, y1=lo, y2=hi, fill_color="#6a6a6a", fill_alpha=a)

sx, sy = [], []
for b, ((t0, t1), vals) in enumerate(zip(scatter_bins, scatter_vals)):
    n = len(vals)
    for k, v in enumerate(vals):
        slot = (k * 7 + b * 5) % n
        sx.append(t0 + (slot + 0.5) * (t1 - t0) / n)
        sy.append(v)
p1.scatter(sx, sy, size=5.5, fill_color="#505050", fill_alpha=0.25, line_color=None)

mx, my = join([mii_seg1, mii_seg2, mii_seg3, mii_seg4, mii_seg5])
bx, by = join([das_seg1, das_seg2, das_seg3, das_seg4, das_seg5, das_seg6])
p1.scatter(bx, by, size=6, fill_color="#3fd3e6", fill_alpha=0.5, line_color=None)
r_mii = p1.line(mx, my, line_color="#000000", line_width=2)
r_das = p1.line(bx, by, line_color="#1b22ad", line_width=1.8)

p1.xaxis.ticker = FixedTicker(ticks=day_ticks)
p1.xaxis.major_label_overrides = {i: lab for i, lab in zip(day_ticks, date_labels)}
p1.xaxis.major_label_orientation = math.pi / 6
p1.xaxis.major_label_standoff = 6
p1.yaxis.ticker = FixedTicker(ticks=speed_ticks)
p1.yaxis.axis_label = "current speed (cm/s)"
p1.yaxis.axis_label_standoff = 6
for ax in p1.xaxis + p1.yaxis:
    style_axis(ax)

leg1 = Legend(items=[LegendItem(label="MII current meter", renderers=[r_mii]),
                     LegendItem(label="MII data gap", renderers=[r_gap]),
                     LegendItem(label="DAS derived", renderers=[r_das])],
              ncols=2, location="top_right", title="Oceanic Current",
              title_text_font=FONT, title_text_font_size="13px", title_text_font_style="bold",
              title_text_color="#000000", title_standoff=3,
              label_text_font=FONT, label_text_font_size="13px", label_text_color="#000000",
              glyph_width=25, glyph_height=14, label_standoff=7, label_height=14, label_width=120,
              padding=6, spacing=2, margin=9, border_line_color=AX, border_line_width=1,
              background_fill_alpha=1.0)
p1.add_layout(leg1)
p1.add_layout(Label(x=20, y=10, text="(a)", text_align="right", text_baseline="bottom", y_offset=4,
                    text_font=FONT, text_font_size="12px", text_color=AX))

# ---------------- panel (b) ----------------
p2 = figure(width=438, height=526, x_axis_type="log", x_range=(0.1, 158.5), y_range=(-50, 30),
            toolbar_location=None, output_backend="svg",
            min_border_left=87, min_border_right=6, min_border_top=25, min_border_bottom=57)
p2.grid.visible = False
p2.outline_line_color = AX

minor_periods = [m * 10.0 ** e for e in (-1, 0, 1, 2) for m in range(2, 10) if m * 10.0 ** e < 158.5]

noise_period_m = np.geomspace(0.1, 4.5, len(spec_mii_noise))
noise_period_d = np.geomspace(0.1, 4.5, len(spec_das_noise))
sm_px = np.concatenate([noise_period_m, [a for a, _ in spec_mii_smooth]])
sm_py = np.concatenate([np.array(spec_mii_noise, float), [b for _, b in spec_mii_smooth]])
sd_px = np.concatenate([noise_period_d, [a for a, _ in spec_das_smooth]])
sd_py = np.concatenate([np.array(spec_das_noise, float), [b for _, b in spec_das_smooth]])

r_smii = p2.line(sm_px, sm_py, line_color="#000000", line_width=1.3)
r_sdas = p2.line(sd_px, sd_py, line_color="#2030c8", line_width=1.3)

p2.line([a for a, _ in slope_25], [b for _, b in slope_25], line_color="#e8131b", line_width=3)
p2.line([a for a, _ in slope_15], [b for _, b in slope_15], line_color="#e8131b", line_width=3)

bax = p2.below[0]
bax.ticker = FixedTicker(ticks=period_major, minor_ticks=minor_periods)
bax.major_label_overrides = {t: lab for t, lab in zip(period_major, period_labels)}
bax.axis_label = "period (hours)"
bax.major_label_standoff = 8
bax.axis_label_standoff = 6
style_axis(bax)
lax = p2.left[0]
lax.ticker = FixedTicker(ticks=power_ticks)
lax.axis_label = "power ( 10log\u2081\u2080(nstrain\u00b2/Hz) )"
lax.major_label_standoff = 7
lax.axis_label_standoff = 4
style_axis(lax)

empty = CustomJSTickFormatter(code="return ''")
rax = LinearAxis(ticker=FixedTicker(ticks=power_ticks), formatter=empty, major_label_standoff=0)
style_axis(rax)
p2.add_layout(rax, "right")
tax = LogAxis(ticker=FixedTicker(ticks=period_major, minor_ticks=minor_periods), formatter=empty,
              major_label_standoff=0)
style_axis(tax)
p2.add_layout(tax, "above")

leg2 = Legend(items=[LegendItem(label="MII current meter", renderers=[r_smii]),
                     LegendItem(label="DAS derived", renderers=[r_sdas])],
              location="top_left", label_text_font=FONT, label_text_font_size="13px",
              label_text_color="#000000", glyph_width=35, glyph_height=14, label_standoff=5,
              label_height=14, padding=8, spacing=4, margin=9, border_line_color=AX,
              border_line_width=1, background_fill_alpha=1.0)
p2.add_layout(leg2)

p2.add_layout(Label(x=peak_das[0] * 1.057, y=peak_das[1] + 0.6, text="\u2190 17.06 h",
                    text_baseline="middle", text_font=FONT, text_font_size="12px",
                    text_font_style="bold", text_color="#2a33c2"))
p2.add_layout(Label(x=peak_mii[0] * 1.17, y=peak_mii[1] + 0.1, text="\u219017.16 h",
                    text_baseline="middle", text_font=FONT, text_font_size="12px",
                    text_font_style="bold", text_color="#111111"))
p2.add_layout(Label(x=slope_25[1][0] * 1.14, y=slope_25[1][1] + 0.9, text="p = -2.5",
                    text_baseline="middle", text_font=FONT, text_font_size="12px",
                    text_font_style="bold", text_color="#e8131b"))
p2.add_layout(Label(x=slope_15[1][0] * 1.16, y=slope_15[1][1] + 1.1, text="p = -1.5",
                    text_baseline="middle", text_font=FONT, text_font_size="12px",
                    text_font_style="bold", text_color="#e8131b"))
p2.add_layout(Label(x=158.5, y=30, text="(b)", text_align="right", text_baseline="bottom", y_offset=4,
                    text_font=FONT, text_font_size="12px", text_color=AX))

layout = row(p1, p2)
open("out.html", "w").write(file_html(layout, INLINE))
